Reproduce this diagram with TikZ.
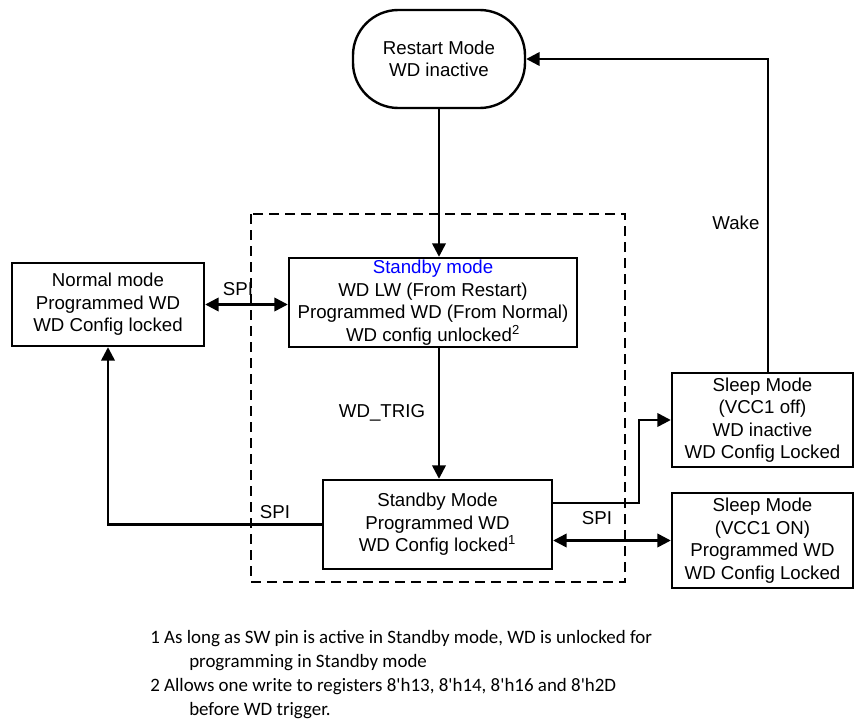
\documentclass[tikz,border=0pt]{standalone}
\usepackage{fontspec}
\setmainfont{Liberation Sans}
\newfontfamily\notefont{Carlito}
\usepackage{xcolor}
\usetikzlibrary{arrows.meta, positioning}

\begin{document}
\begin{tikzpicture}[x=0.75pt, y=-0.75pt,
  mbox/.style={rectangle, draw=black, line width=1.8pt, align=center, inner sep=0pt,
               font=\fontsize{14}{16.9}\selectfont},
  rbox/.style={mbox, rounded corners=34pt},
  arr/.style={-{Triangle[length=10pt,width=10pt]}, line width=1.8pt},
  darr/.style={{Triangle[length=10pt,width=10pt]}-{Triangle[length=10pt,width=10pt]}, line width=1.8pt},
  lbl/.style={font=\fontsize{14}{16.9}\selectfont, inner sep=1pt},
  frame/.style={line width=1.1pt, dash pattern=on 7.5pt off 4.5pt},
  note/.style={font=\notefont\fontsize{14.2}{17}\selectfont, anchor=base west, inner sep=0pt}
]
\useasboundingbox (0,0) rectangle (854,724);
%% Watchdog mode boxes
\node[rbox, minimum width=129pt, minimum height=73.5pt] (restart) at (439,59) {Restart Mode\\WD inactive};
\node[mbox, minimum width=216pt, minimum height=66.75pt] (sb1) at (433,302.5)
  {\textcolor{blue}{Standby mode}\\WD LW (From Restart)\\Programmed WD (From Normal)\\WD config unlocked\textsuperscript{2}};
\node[mbox, minimum width=144pt, minimum height=62.25pt] (normal) at (108,304.5)
  {Normal mode\\Programmed WD\\WD Config locked};
\node[mbox, minimum width=171.75pt, minimum height=66.75pt] (sb2) at (437.5,524.5)
  {Standby Mode\\Programmed WD\\WD Config locked\textsuperscript{1}};
\node[mbox, minimum width=135.75pt, minimum height=70.5pt] (sleep1) at (762.5,420)
  {Sleep Mode\\(VCC1 off)\\WD inactive\\WD Config Locked};
\node[mbox, minimum width=135.75pt, minimum height=71.25pt] (sleep2) at (762.5,540.5)
  {Sleep Mode\\(VCC1 ON)\\Programmed WD\\WD Config Locked};
%% Standby region
\draw[frame] (251,214) rectangle (625,582);
%% Transitions
\draw[arr] (restart.south) -- (restart.south |- sb1.north);
\draw[arr] (sb1.south -| restart.south) -- (sb2.north -| restart.south);
\draw[darr] (normal.east) -- (normal.east -| sb1.west);
\draw[arr] (sb2.west) -| (normal.south);
\draw[arr] ([yshift=16pt]sb2.east) -- ++(86,0) |- (sleep1.west);
\draw[darr] (sleep2.west -| sb2.east) -- (sleep2.west);
\draw[arr] ([xshift=4pt]sleep1.north) |- (restart.east);
%% Labels
\node[lbl] (spi1) at (238,289) {SPI};
\node[lbl] (trig) at (382,413) {WD\_TRIG};
\node[lbl] (spi2) at (275,512) {SPI};
\node[lbl] (spi3) at (597,518) {SPI};
\node[lbl, anchor=east] (wake) at (761,223) {Wake};
%% Footnotes
\node[note] (fn1) at (150,643) {1 As long as SW pin is active in Standby mode, WD is unlocked for};
\node[note] (fn2) at (189,667) {programming in Standby mode};
\node[note] (fn3) at (150,691) {2 Allows one write to registers 8'h13, 8'h14, 8'h16 and 8'h2D};
\node[note] (fn4) at (189,715) {before WD trigger.};
\end{tikzpicture}
\end{document}
